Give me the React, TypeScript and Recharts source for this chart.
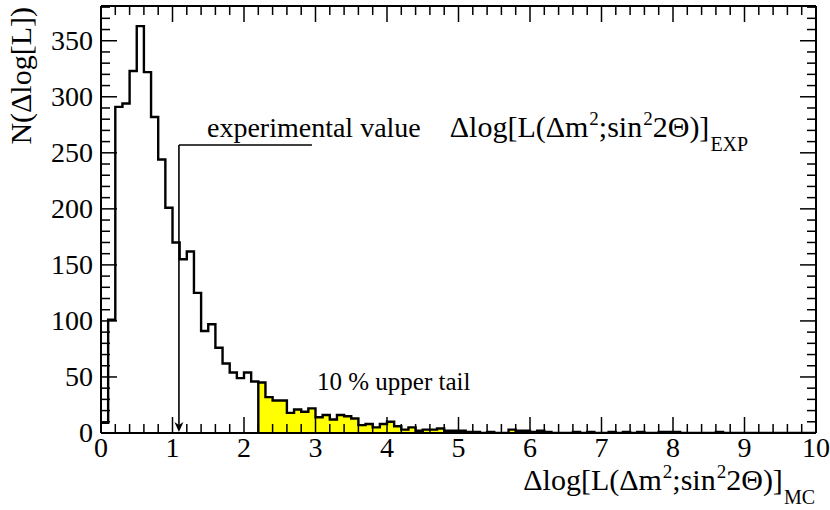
import React from "react";
import { ComposedChart, Area, Line, XAxis, YAxis, ReferenceLine } from "recharts";

// histogram of Delta log L from MC, bins of 0.1 from 0 to 10
const BIN_WIDTH = 0.1;
const BIN_COUNTS = [
  9, 101, 291, 294, 323, 363, 322, 282, 244, 201,
  170, 155, 162, 125, 91, 97, 76, 62, 54, 49,
  54, 46, 45, 32, 29, 29, 18, 21, 19, 22,
  14, 16, 12, 16, 15, 13, 7, 8, 5, 8,
  10, 6, 3, 5, 2, 3, 3, 4, 2, 2,
  2, 1, 1, 0, 1, 0, 0, 3, 2, 2,
  1, 2, 1, 0, 0, 0, 1, 0, 1, 0,
  0, 1, 0, 1, 0, 1, 0, 0, 1, 1,
  1, 0, 0, 0, 0, 0, 1, 0, 0, 0,
  0, 0, 0, 0, 0, 0, 0, 0, 0, 0,
];
const TAIL_START = 2.2;

// experimental value marker
const EXP_VALUE = 1.09;
const EXP_MARK_Y = 257;
const EXP_LINE_END = 2.95;

const X_DOMAIN = [0, 10];
const Y_DOMAIN = [0, 381];
const X_TICKS = [
  0, 0.2, 0.4, 0.6, 0.8, 1, 1.2, 1.4, 1.6, 1.8, 2, 2.2, 2.4, 2.6, 2.8, 3, 3.2, 3.4, 3.6, 3.8,
  4, 4.2, 4.4, 4.6, 4.8, 5, 5.2, 5.4, 5.6, 5.8, 6, 6.2, 6.4, 6.6, 6.8, 7, 7.2, 7.4, 7.6, 7.8,
  8, 8.2, 8.4, 8.6, 8.8, 9, 9.2, 9.4, 9.6, 9.8, 10,
];
const X_LABELS = [0, 1, 2, 3, 4, 5, 6, 7, 8, 9, 10];
const Y_TICKS = [
  0, 10, 20, 30, 40, 50, 60, 70, 80, 90, 100, 110, 120, 130, 140, 150, 160, 170, 180, 190,
  200, 210, 220, 230, 240, 250, 260, 270, 280, 290, 300, 310, 320, 330, 340, 350, 360, 370, 380,
];
const Y_LABELS = [0, 50, 100, 150, 200, 250, 300, 350];

const FONT = '"Liberation Serif", "DejaVu Serif", serif';
const txt = { fontFamily: FONT };

const rows = BIN_COUNTS.map((c, i) => {
  const x = Math.round(i * BIN_WIDTH * 10) / 10;
  return { x, all: c, tail: x >= TAIL_START - 1e-9 ? c : null };
});
rows.push({ x: 10, all: BIN_COUNTS[BIN_COUNTS.length - 1], tail: BIN_COUNTS[BIN_COUNTS.length - 1] });

const isMajorX = (v: number) => X_LABELS.some((l) => Math.abs(l - v) < 1e-6);
const isMajorY = (v: number) => Y_LABELS.includes(v);

function BottomTick({ x, y, payload }: any) {
  const major = isMajorX(payload.value);
  return (
    <g>
      <line x1={x} x2={x} y1={y} y2={y - (major ? 16 : 9)} stroke="#000" strokeWidth={1.5} />
      {major && (
        <text x={x} y={y + 24} textAnchor="middle" style={txt} fontSize={28} fill="#000">
          {payload.value}
        </text>
      )}
    </g>
  );
}

function TopTick({ x, y, payload }: any) {
  const major = isMajorX(payload.value);
  return <line x1={x} x2={x} y1={y} y2={y + (major ? 16 : 9)} stroke="#000" strokeWidth={1.5} />;
}

function LeftTick({ x, y, payload }: any) {
  const major = isMajorY(payload.value);
  return (
    <g>
      <line x1={x} x2={x + (major ? 16 : 9)} y1={y} y2={y} stroke="#000" strokeWidth={1.5} />
      {major && (
        <text x={x - 8} y={y + 9} textAnchor="end" style={txt} fontSize={28} fill="#000">
          {payload.value}
        </text>
      )}
    </g>
  );
}

function RightTick({ x, y, payload }: any) {
  const major = isMajorY(payload.value);
  return <line x1={x} x2={x - (major ? 16 : 9)} y1={y} y2={y} stroke="#000" strokeWidth={1.5} />;
}

function ArrowShape(props: any) {
  const { x1, y1, x2, y2 } = props;
  return (
    <g>
      <line x1={x1} y1={y1} x2={x2} y2={y2 - 6} stroke="#000" strokeWidth={1.6} />
      <polygon points={`${x2},${y2 - 1} ${x2 - 4.5},${y2 - 11} ${x2},${y2 - 8} ${x2 + 4.5},${y2 - 11}`} fill="#000" />
    </g>
  );
}

export default function App() {
  return (
    <div style={{ position: "absolute", left: 0, top: 0, width: 830, height: 510, background: "#fff" }}>
      <ComposedChart
        width={830}
        height={510}
        data={rows}
        margin={{ top: 5, right: 13, bottom: 76, left: 100 }}
      >
        <Area
          type="stepAfter"
          dataKey="tail"
          fill="#ffff00"
          fillOpacity={1}
          stroke="none"
          isAnimationActive={false}
          connectNulls={false}
          dot={false}
          activeDot={false}
        />
        <Line
          type="stepAfter"
          dataKey="all"
          stroke="#000"
          strokeWidth={2.4}
          dot={false}
          activeDot={false}
          isAnimationActive={false}
        />
        <ReferenceLine
          segment={[{ x: TAIL_START, y: 0 }, { x: TAIL_START, y: BIN_COUNTS[22] }]}
          stroke="#000"
          strokeWidth={2.4}
        />
        <ReferenceLine
          segment={[{ x: EXP_VALUE, y: EXP_MARK_Y }, { x: EXP_LINE_END, y: EXP_MARK_Y }]}
          stroke="#000"
          strokeWidth={1.6}
        />
        <ReferenceLine
          segment={[{ x: EXP_VALUE, y: EXP_MARK_Y }, { x: EXP_VALUE, y: 0 }]}
          shape={ArrowShape}
        />
        <XAxis
          xAxisId={0}
          type="number"
          dataKey="x"
          domain={X_DOMAIN}
          ticks={X_TICKS}
          interval={0}
          height={1}
          tickSize={0}
          tickMargin={0}
          tickLine={false}
          tick={<BottomTick />}
          axisLine={{ stroke: "#000", strokeWidth: 2 }}
          allowDataOverflow
        />
        <XAxis
          xAxisId="top"
          orientation="top"
          type="number"
          dataKey="x"
          domain={X_DOMAIN}
          ticks={X_TICKS}
          interval={0}
          height={1}
          tickSize={0}
          tickMargin={0}
          tickLine={false}
          tick={<TopTick />}
          axisLine={{ stroke: "#000", strokeWidth: 2 }}
          allowDataOverflow
        />
        <YAxis
          yAxisId={0}
          type="number"
          domain={Y_DOMAIN}
          ticks={Y_TICKS}
          interval={0}
          width={1}
          tickSize={0}
          tickMargin={0}
          tickLine={false}
          tick={<LeftTick />}
          axisLine={{ stroke: "#000", strokeWidth: 2 }}
          allowDataOverflow
        />
        <YAxis
          yAxisId="right"
          orientation="right"
          type="number"
          domain={Y_DOMAIN}
          ticks={Y_TICKS}
          interval={0}
          width={1}
          tickSize={0}
          tickMargin={0}
          tickLine={false}
          tick={<RightTick />}
          axisLine={{ stroke: "#000", strokeWidth: 2 }}
          allowDataOverflow
        />
        <text x={207} y={137} style={txt} fontSize={28} fill="#000">
          experimental value
          <tspan dx={29} fontSize={30}>Δlog[L(Δm</tspan>
          <tspan dx={1} dy={-12} fontSize={19}>2</tspan>
          <tspan dy={12} fontSize={30}>;sin</tspan>
          <tspan dx={1} dy={-12} fontSize={19}>2</tspan>
          <tspan dy={12} fontSize={30}>2Θ)]</tspan>
          <tspan dx={1} dy={14} fontSize={20}>EXP</tspan>
        </text>
        <text x={317} y={390} style={txt} fontSize={25} fill="#000">
          10 % upper tail
        </text>
        <text x={815} y={490} textAnchor="end" style={txt} fontSize={30} fill="#000">
          Δlog[L(Δm
          <tspan dx={1} dy={-12} fontSize={19}>2</tspan>
          <tspan dy={12}>;sin</tspan>
          <tspan dx={1} dy={-12} fontSize={19}>2</tspan>
          <tspan dy={12}>2Θ)]</tspan>
          <tspan dx={1} dy={14} fontSize={20}>MC</tspan>
        </text>
        <text
          x={31}
          y={7}
          transform="rotate(-90 31 7)"
          textAnchor="end"
          style={txt}
          fontSize={30}
          fill="#000"
        >
          N(Δlog[L])
        </text>
      </ComposedChart>
    </div>
  );
}
